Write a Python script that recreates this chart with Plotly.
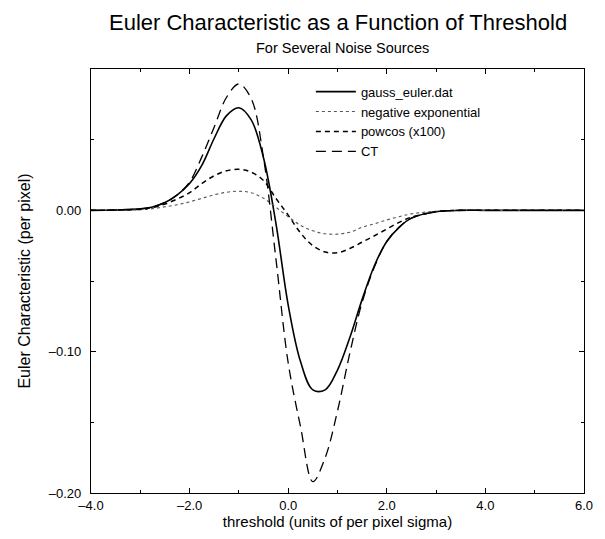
import plotly.graph_objects as go

# threshold values (units of per-pixel sigma)
x_vals = [-4.0, -3.5, -3.0, -2.75, -2.5, -2.25, -2.0, -1.75, -1.5, -1.25, -1.0,
          -0.75, -0.5, -0.25, 0.0, 0.25, 0.5, 0.75, 1.0, 1.25, 1.5, 1.75, 2.0,
          2.25, 2.5, 3.0, 3.5, 4.0, 5.0, 6.0]

gauss_euler = [0.0, 0.0002, 0.001, 0.0024, 0.0055, 0.011, 0.019, 0.032, 0.051, 0.067, 0.0726,
               0.064, 0.037, -0.009, -0.067, -0.107, -0.127, -0.127, -0.113, -0.090, -0.063, -0.039, -0.022,
               -0.012, -0.0055, -0.001, 0.0, 0.0, 0.0, 0.0]

neg_exponential = [0.0, 0.0001, 0.0004, 0.0012, 0.0025, 0.004, 0.006, 0.0085, 0.011, 0.0128, 0.0135,
                   0.0125, 0.0085, 0.0022, -0.0045, -0.0106, -0.0145, -0.0166, -0.0168, -0.0155, -0.012, -0.0095, -0.0068,
                   -0.0045, -0.0025, -0.0006, 0.0, 0.0, 0.0, 0.0]

powcos_x100 = [0.0, 0.0002, 0.0008, 0.002, 0.0045, 0.008, 0.0125, 0.019, 0.0245, 0.028, 0.029,
               0.027, 0.021, 0.0085, -0.0034, -0.016, -0.025, -0.0295, -0.030, -0.027, -0.0225, -0.018, -0.0132,
               -0.0085, -0.0048, -0.001, 0.0, 0.0, 0.0, 0.0]

ct = [0.0, 0.0002, 0.001, 0.0024, 0.0055, 0.011, 0.020, 0.038, 0.059, 0.080, 0.0894,
      0.079, 0.037, -0.034, -0.108, -0.153, -0.192, -0.175, -0.142, -0.101, -0.065, -0.040, -0.022,
      -0.012, -0.0055, -0.001, 0.0, 0.0, 0.0, 0.0]

x_ticks = [-4.0, -2.0, 0.0, 2.0, 4.0, 6.0]
y_ticks = [-0.20, -0.10, 0.00]

FONT = "Liberation Sans, Arial, Helvetica, sans-serif"

fig = go.Figure()
fig.add_trace(go.Scatter(x=x_vals, y=gauss_euler, name="gauss_euler.dat", mode="lines",
                         line=dict(color="black", width=1.6, shape="spline")))
fig.add_trace(go.Scatter(x=x_vals, y=neg_exponential, name="negative exponential", mode="lines",
                         line=dict(color="#555555", width=1.1, dash="dot", shape="spline")))
fig.add_trace(go.Scatter(x=x_vals, y=powcos_x100, name="powcos (x100)", mode="lines",
                         line=dict(color="black", width=1.5, dash="5px,4px", shape="spline")))
fig.add_trace(go.Scatter(x=x_vals, y=ct, name="CT", mode="lines",
                         line=dict(color="black", width=1.3, dash="10px,6px", shape="spline")))

axis_common = dict(showgrid=False, zeroline=False, showline=True, linecolor="black", linewidth=1.3,
                   mirror="ticks", ticks="inside", ticklen=5, tickcolor="black",
                   tickfont=dict(family=FONT, size=13, color="black"))

fig.update_xaxes(range=[-4, 6], tickvals=x_ticks, ticktext=[f"{v:.1f}".replace("-", "\u2013") for v in x_ticks],
                 minor=dict(dtick=1, ticks="inside", ticklen=3, tickcolor="black"),
                 title=dict(text="threshold (units of per pixel sigma)",
                            font=dict(family=FONT, size=15, color="black"), standoff=2),
                 **axis_common)
fig.update_yaxes(range=[-0.20, 0.10], tickvals=y_ticks, ticktext=[f"{v:.2f}".replace("-", "\u2013") for v in y_ticks],
                 minor=dict(dtick=0.05, ticks="inside", ticklen=3, tickcolor="black"),
                 ticklabelstandoff=6,
                 title=dict(text="Euler Characteristic (per pixel)",
                            font=dict(family=FONT, size=16, color="black"), standoff=14),
                 **axis_common)

fig.update_layout(
    width=597, height=531,
    margin=dict(l=83, r=14, t=61, b=46),
    paper_bgcolor="white", plot_bgcolor="white",
    font=dict(family=FONT, color="black"),
    showlegend=True,
    legend=dict(x=0.446, y=0.982, xanchor="left", yanchor="top", bgcolor="rgba(0,0,0,0)",
                font=dict(family=FONT, size=13, color="black"), tracegroupgap=0, itemwidth=40),
    annotations=[
        dict(text="Euler Characteristic as a Function of Threshold", xref="paper", yref="paper",
             x=0.5, y=1, yshift=47, xanchor="center", yanchor="middle", showarrow=False,
             font=dict(family=FONT, size=22, color="black")),
        dict(text="For Several Noise Sources", xref="paper", yref="paper",
             x=0.51, y=1, yshift=21, xanchor="center", yanchor="middle", showarrow=False,
             font=dict(family=FONT, size=14.5, color="black")),
    ],
)

fig.write_html("out.html")
